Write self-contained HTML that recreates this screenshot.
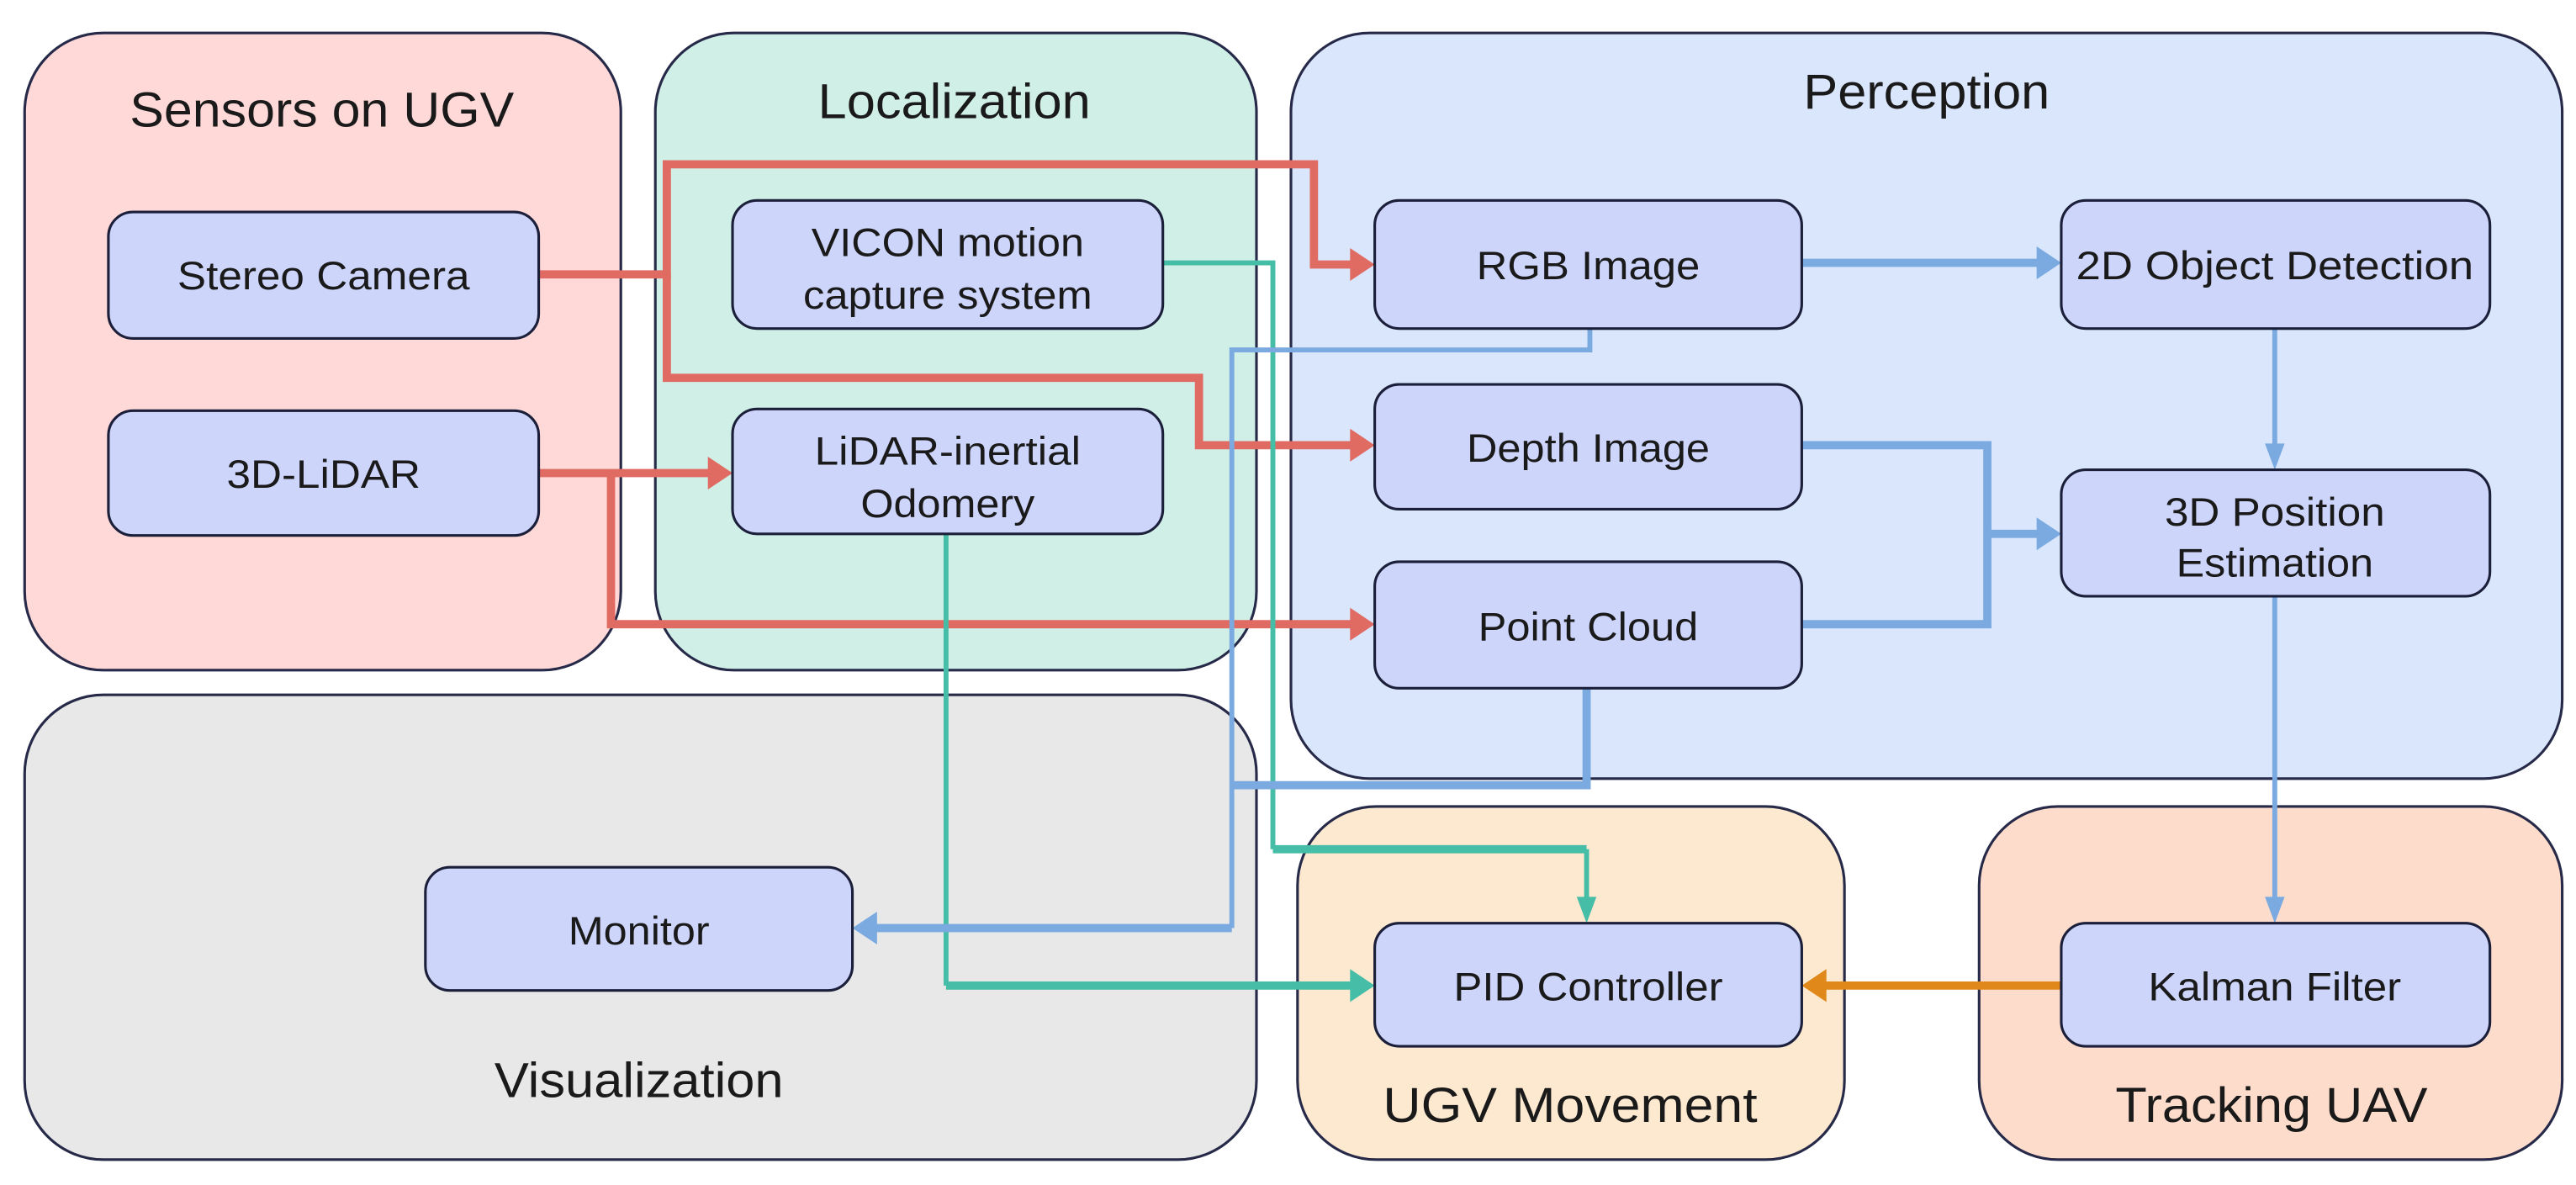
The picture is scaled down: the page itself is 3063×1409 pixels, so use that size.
<!DOCTYPE html>
<html><head><meta charset="utf-8"><style>
html,body{margin:0;padding:0;background:#fff;}
svg{display:block;}
text{font-family:"Liberation Sans",Arial,sans-serif;fill:#1a1a1a;}
</style></head><body>
<svg width="3063" height="1409" viewBox="0 0 1568.4 721.4" xmlns="http://www.w3.org/2000/svg">
<g stroke="#262a48" stroke-width="1.6">
<rect x="15" y="20" width="363" height="388" rx="48" fill="#ffd8d8"/>
<rect x="399" y="20" width="366" height="388" rx="48" fill="#d0efe6"/>
<rect x="786" y="20" width="774" height="454" rx="48" fill="#dae6fc"/>
<rect x="15" y="423" width="750" height="283" rx="48" fill="#e8e8e8"/>
<rect x="790" y="491" width="333" height="215" rx="48" fill="#fde9d0"/>
<rect x="1205" y="491" width="355" height="215" rx="48" fill="#fddccb"/>
</g>
<g font-size="30" text-anchor="middle">
<text x="196" y="77" textLength="234" lengthAdjust="spacingAndGlyphs">Sensors on UGV</text>
<text x="581" y="72" textLength="166" lengthAdjust="spacingAndGlyphs">Localization</text>
<text x="1173" y="66" textLength="150" lengthAdjust="spacingAndGlyphs">Perception</text>
<text x="389" y="668" textLength="176" lengthAdjust="spacingAndGlyphs">Visualization</text>
<text x="956" y="683" textLength="228" lengthAdjust="spacingAndGlyphs">UGV Movement</text>
<text x="1383" y="683" textLength="190" lengthAdjust="spacingAndGlyphs">Tracking UAV</text>
</g>
<g fill="none" stroke-linejoin="miter">
<g stroke="#e06b63" stroke-width="5">
<polyline points="328,167 406,167 406,100 800,100 800,161 826,161"/>
<polyline points="406,167 406,230 730,230 730,271 826,271"/>
<polyline points="328,288 436,288"/>
<polyline points="372,288 372,380 826,380"/>
</g>
<g stroke="#46bda6">
<polyline points="708,160 775,160 775,517" stroke-width="3"/>
<polyline points="775,517 966,517" stroke-width="5"/>
<polyline points="966,517 966,550" stroke-width="3"/>
<polyline points="576,325 576,600" stroke-width="3"/>
<polyline points="576,600 826,600" stroke-width="5"/>
</g>
<g stroke="#7aaae0">
<polyline points="1097,160 1244,160" stroke-width="5"/>
<polyline points="1385,200 1385,274" stroke-width="3"/>
<polyline points="1385,363 1385,550" stroke-width="3"/>
<polyline points="1097,271 1210,271 1210,380 1097,380" stroke-width="5"/>
<polyline points="1210,325 1244,325" stroke-width="5"/>
<polyline points="968,200 968,213 750,213 750,565" stroke-width="3"/>
<polyline points="966,419 966,478 750,478" stroke-width="5"/>
<polyline points="750,565 530,565" stroke-width="5"/>
</g>
<polyline points="1255,600 1108,600" stroke="#e0891a" stroke-width="5"/>
</g>
<g fill="#e06b63">
<polygon points="837,161 822,151 822,171"/>
<polygon points="837,271 822,261 822,281"/>
<polygon points="446,288 431,278 431,298"/>
<polygon points="837,380 822,370 822,390"/>
</g>
<g fill="#46bda6">
<polygon points="966,562 960,546 972,546"/>
<polygon points="837,600 822,590 822,610"/>
</g>
<g fill="#7aaae0">
<polygon points="1255,160 1240,150 1240,170"/>
<polygon points="1255,325 1240,315 1240,335"/>
<polygon points="1385,286 1379,270 1391,270"/>
<polygon points="1385,562 1379,546 1391,546"/>
<polygon points="519,565 534,555 534,575"/>
</g>
<polygon points="1097,600 1112,590 1112,610" fill="#e0891a"/>
<g fill="#cdd5fb" stroke="#1b1f3a" stroke-width="1.6">
<rect x="66" y="129" width="262" height="77" rx="15"/>
<rect x="66" y="250" width="262" height="76" rx="15"/>
<rect x="446" y="122" width="262" height="78" rx="15"/>
<rect x="446" y="249" width="262" height="76" rx="15"/>
<rect x="837" y="122" width="260" height="78" rx="15"/>
<rect x="837" y="234" width="260" height="76" rx="15"/>
<rect x="837" y="342" width="260" height="77" rx="15"/>
<rect x="1255" y="122" width="261" height="78" rx="15"/>
<rect x="1255" y="286" width="261" height="77" rx="15"/>
<rect x="259" y="528" width="260" height="75" rx="15"/>
<rect x="837" y="562" width="260" height="75" rx="15"/>
<rect x="1255" y="562" width="261" height="75" rx="15"/>
</g>
<g font-size="24" text-anchor="middle" lengthAdjust="spacingAndGlyphs">
<text x="197" y="176" textLength="178" lengthAdjust="spacingAndGlyphs">Stereo Camera</text>
<text x="197" y="297" textLength="118" lengthAdjust="spacingAndGlyphs">3D-LiDAR</text>
<text x="577" y="156" textLength="166" lengthAdjust="spacingAndGlyphs">VICON motion</text>
<text x="577" y="188" textLength="176" lengthAdjust="spacingAndGlyphs">capture system</text>
<text x="577" y="283" textLength="162" lengthAdjust="spacingAndGlyphs">LiDAR-inertial</text>
<text x="577" y="315" textLength="106" lengthAdjust="spacingAndGlyphs">Odomery</text>
<text x="967" y="170" textLength="136" lengthAdjust="spacingAndGlyphs">RGB Image</text>
<text x="967" y="281" textLength="148" lengthAdjust="spacingAndGlyphs">Depth Image</text>
<text x="967" y="390" textLength="134" lengthAdjust="spacingAndGlyphs">Point Cloud</text>
<text x="1385" y="170" textLength="242" lengthAdjust="spacingAndGlyphs">2D Object Detection</text>
<text x="1385" y="320" textLength="134" lengthAdjust="spacingAndGlyphs">3D Position</text>
<text x="1385" y="351" textLength="120" lengthAdjust="spacingAndGlyphs">Estimation</text>
<text x="389" y="575" textLength="86" lengthAdjust="spacingAndGlyphs">Monitor</text>
<text x="967" y="609" textLength="164" lengthAdjust="spacingAndGlyphs">PID Controller</text>
<text x="1385" y="609" textLength="154" lengthAdjust="spacingAndGlyphs">Kalman Filter</text>
</g>
</svg>
</body></html>
